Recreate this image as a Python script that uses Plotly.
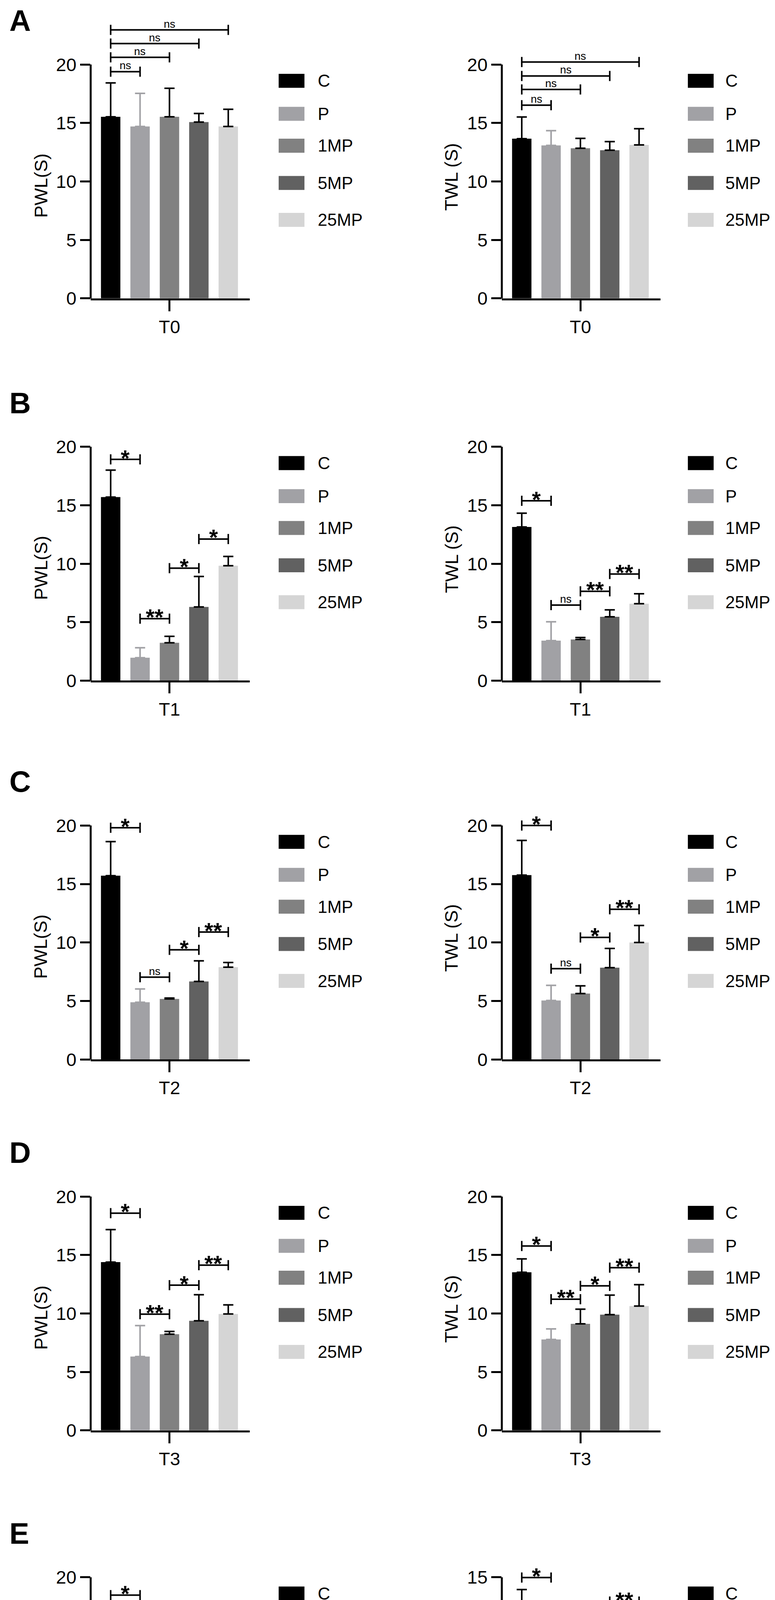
import plotly.graph_objects as go

# Data
groups = ["C", "P", "1MP", "5MP", "25MP"]
timepoints = ["T0", "T1", "T2", "T3", "T4"]

pwl_mean = [
    [15.53, 14.70, 15.53, 15.08, 14.70],
    [15.70, 1.96, 3.24, 6.30, 9.83],
    [15.71, 4.89, 5.17, 6.67, 7.89],
    [14.39, 6.32, 8.23, 9.37, 9.96],
    [14.57, 9.77, 10.95, 11.65, 13.58],
]
pwl_sd = [
    [2.90, 2.83, 2.44, 0.73, 1.47],
    [2.30, 0.85, 0.55, 2.61, 0.79],
    [2.92, 1.13, 0.08, 1.76, 0.40],
    [2.78, 2.64, 0.23, 2.23, 0.77],
    [2.67, 2.48, 0.18, 1.91, 0.79],
]
twl_mean = [
    [13.66, 13.08, 12.84, 12.67, 13.12],
    [13.14, 3.42, 3.52, 5.46, 6.58],
    [15.76, 5.04, 5.63, 7.84, 10.00],
    [13.52, 7.78, 9.11, 9.90, 10.63],
    [13.08, 8.71, 9.36, 10.68, 11.66],
]
twl_sd = [
    [1.85, 1.26, 0.84, 0.74, 1.39],
    [1.18, 1.61, 0.17, 0.59, 0.85],
    [2.97, 1.29, 0.66, 1.65, 1.45],
    [1.15, 0.90, 1.26, 1.67, 1.83],
    [1.13, 1.56, 1.04, 0.00, 0.83],
]
pwl_axis_top = [20, 20, 20, 20, 20]
twl_axis_top = [20, 20, 20, 20, 15]

# significance brackets: pairs, heights and labels
pwl_pairs = [
    [(0, 1), (0, 2), (0, 3), (0, 4)],
    [(0, 1), (1, 2), (2, 3), (3, 4)],
    [(0, 1), (1, 2), (2, 3), (3, 4)],
    [(0, 1), (1, 2), (2, 3), (3, 4)],
    [(0, 1), (1, 2), (2, 3), (3, 4)],
]
pwl_sig_y = [
    [19.39, 20.61, 21.79, 22.96],
    [18.92, 5.30, 9.62, 12.11],
    [19.81, 7.03, 9.37, 10.89],
    [18.58, 9.94, 12.42, 14.13],
    [18.47, 13.14, 14.30, 16.74],
]
pwl_sig_text = [
    ["ns", "ns", "ns", "ns"],
    ["*", "**", "*", "*"],
    ["*", "ns", "*", "**"],
    ["*", "**", "*", "**"],
    ["*", "**", "*", "**"],
]
twl_pairs = pwl_pairs
twl_sig_y = [
    [16.52, 17.87, 19.02, 20.21],
    [15.38, 6.46, 7.64, 9.12],
    [20.00, 7.76, 10.43, 12.84],
    [15.77, 11.22, 12.36, 13.92],
    [14.98, 11.20, 11.84, 13.44],
]
twl_sig_text = [
    ["ns", "ns", "ns", "ns"],
    ["*", "ns", "**", "**"],
    ["*", "ns", "*", "**"],
    ["*", "**", "*", "**"],
    ["*", "**", "*", "**"],
]
panel_letters = ["A", "B", "C", "D", "E"]

colors = ["#000000", "#a1a1a5", "#818181", "#616161", "#d5d5d5"]
err_colors = ["#000000", "#a1a1a5", "#000000", "#000000", "#000000"]

# Layout (pixels)
W, H = 1983, 4733
FONT = "Liberation Sans, Arial, sans-serif"
row_top = [158, 1142, 2117, 3072, 4052]
plot_h = 602
cols = [(224, 631), (1276, 1682)]
legend_x = [705, 1752]
legend_gap = [98, 94]
legend_dy = [42, 127, 209, 305, 400]
title_x = [96, 1147]
title_dy = [312, 290]
ytitles = ["PWL(S)", "TWL (S)"]
EXTRA = 1.2


def px(x):
    return x / W


def py(y):
    return 1 - y / H


fig = go.Figure()
shapes = []
annotations = []

n = 0
for r in range(5):
    for c in range(2):
        n += 1
        sfx = "" if n == 1 else str(n)
        xa, ya = "x" + sfx, "y" + sfx
        if c == 0:
            means, sds, top = pwl_mean[r], pwl_sd[r], pwl_axis_top[r]
            pairs, sig_y, sig_t = pwl_pairs[r], pwl_sig_y[r], pwl_sig_text[r]
        else:
            means, sds, top = twl_mean[r], twl_sd[r], twl_axis_top[r]
            pairs, sig_y, sig_t = twl_pairs[r], twl_sig_y[r], twl_sig_text[r]

        for i, g in enumerate(groups):
            fig.add_trace(go.Bar(
                x=[i], y=[means[i]], width=0.66, name=g,
                marker=dict(color=colors[i], line=dict(width=0)),
                error_y=dict(type="data", symmetric=False, array=[sds[i]],
                             arrayminus=[0], color=err_colors[i],
                             thickness=4, width=13, visible=sds[i] > 0),
                xaxis=xa, yaxis=ya, showlegend=False,
            ))

        bot = row_top[r] + plot_h
        dom_top = bot - plot_h * EXTRA
        x0, x1 = cols[c]
        fig.update_layout(**{
            ("xaxis" + sfx): dict(
                domain=[px(x0), px(x1)], anchor=ya, range=[-0.68, 4.73],
                tickvals=[2], ticktext=[timepoints[r]], ticks="outside",
                ticklen=28, tickwidth=5, tickcolor="black",
                showline=True, linewidth=5, linecolor="black",
                showgrid=False, zeroline=False,
                tickfont=dict(family=FONT, size=47, color="black"),
            ),
            ("yaxis" + sfx): dict(
                domain=[py(bot), py(dom_top)], anchor=xa,
                range=[0, top * EXTRA],
                tickvals=list(range(0, top + 1, 5)), ticks="outside",
                ticklen=26, tickwidth=5, tickcolor="black",
                showline=False, showgrid=False, zeroline=False,
                tickfont=dict(family=FONT, size=47, color="black"),
            ),
        })

        # y axis line, only up to the top tick
        shapes.append(dict(type="line", xref=xa + " domain", yref=ya,
                           x0=0, x1=0, y0=-top * 0.008, y1=top,
                           line=dict(color="black", width=5)))

        # significance brackets
        for (a, b), h, t in zip(pairs, sig_y, sig_t):
            shapes.append(dict(type="line", xref=xa, yref=ya, x0=a, x1=b,
                               y0=h, y1=h, line=dict(color="black", width=4)))
            for e in (a, b):
                shapes.append(dict(type="line", xref=xa, yref=ya,
                                   ysizemode="pixel", yanchor=h,
                                   x0=e, x1=e, y0=-13, y1=13,
                                   line=dict(color="black", width=4)))
            if t == "ns":
                annotations.append(dict(
                    x=(a + b) / 2, y=h, xref=xa, yref=ya, text=t,
                    showarrow=False, yanchor="bottom", yshift=-2,
                    font=dict(family=FONT, size=28, color="black"),
                ))
            else:
                annotations.append(dict(
                    x=(a + b) / 2, y=h, xref=xa, yref=ya, text=t,
                    showarrow=False, yanchor="middle", yshift=4,
                    font=dict(family=FONT, size=58, color="black",
                              weight="bold"),
                ))

        # legend
        for i, g in enumerate(groups):
            cy = row_top[r] + legend_dy[i]
            lx = legend_x[c]
            shapes.append(dict(type="rect", xref="paper", yref="paper",
                               x0=px(lx), x1=px(lx + 66),
                               y0=py(cy + 18), y1=py(cy - 18),
                               fillcolor=colors[i], line=dict(width=0)))
            annotations.append(dict(
                x=px(lx + legend_gap[c]), y=py(cy), xref="paper", yref="paper",
                text=g, showarrow=False, xanchor="left", yanchor="middle",
                font=dict(family=FONT, size=44, color="black"),
            ))

        # y axis title
        annotations.append(dict(
            x=px(title_x[c]), y=py(row_top[r] + title_dy[c]),
            xref="paper", yref="paper", text=ytitles[c], textangle=-90,
            showarrow=False, xanchor="center", yanchor="middle",
            font=dict(family=FONT, size=47, color="black"),
        ))

    # panel letter
    annotations.append(dict(
        x=px(14), y=py(row_top[r] - 113), xref="paper", yref="paper",
        text="<b>" + panel_letters[r] + "</b>", showarrow=False,
        xanchor="left", yanchor="middle",
        font=dict(family=FONT, size=76, color="black"),
    ))

fig.update_layout(
    width=W, height=H, barmode="overlay",
    margin=dict(l=0, r=0, t=0, b=0),
    paper_bgcolor="white", plot_bgcolor="white",
    showlegend=False, shapes=shapes, annotations=annotations,
)

fig.write_html("out.html")
